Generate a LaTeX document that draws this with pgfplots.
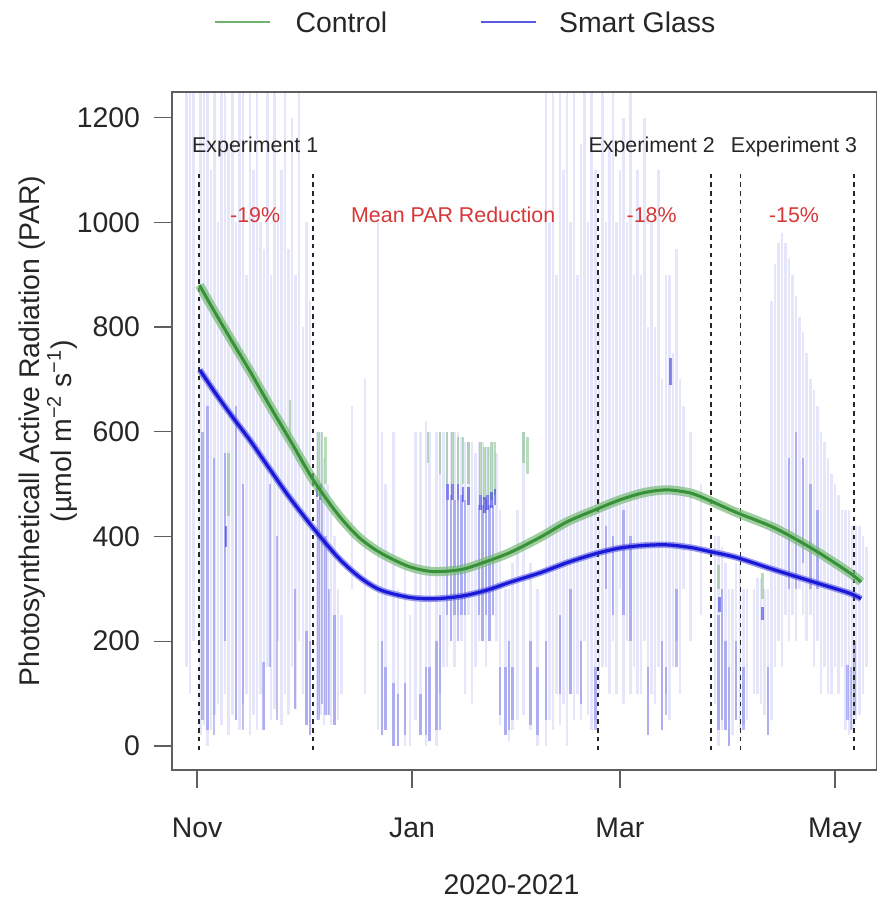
\documentclass[border=0pt]{standalone}
\usepackage{fontspec}
\setmainfont{Liberation Sans}
\usepackage{pgfplots}
\pgfplotsset{compat=1.18}
\definecolor{ctrl}{RGB}{55,145,55}
\definecolor{ctrlband}{RGB}{120,185,120}
\definecolor{sg}{RGB}{25,25,215}
\definecolor{sgband}{RGB}{90,90,225}
\definecolor{redtxt}{RGB}{215,55,55}
\definecolor{frame}{RGB}{95,95,95}
\begin{document}
\begin{tikzpicture}
\begin{axis}[
  scale only axis, width=352.6pt, height=339pt,
  xmin=-7.1, xmax=193, ymin=-46, ymax=1249,
  unbounded coords=jump,
  axis line style={draw=frame, line width=0.9pt},
  tick align=outside, major tick length=9pt,
  tick style={draw=frame, line width=0.7pt},
  xtick pos=left, ytick pos=left,
  xtick={0,61,120,181}, xticklabels={Nov,Jan,Mar,May},
  ytick={0,200,400,600,800,1000,1200},
  /pgf/number format/set thousands separator={},
  /pgf/number format/assume math mode=true,
  ticklabel style={font=\fontsize{14.2}{16}\selectfont, text=black!85},
  xticklabel style={yshift=-11.5pt},
  yticklabel style={xshift=-3.5pt},
  xlabel={2020-2021},
  xlabel style={at={(axis description cs:0.4815,-0.1696)}, anchor=center, font=\fontsize{14.2}{16}\selectfont, text=black!85},
  ylabel={Photosyntheticall Active Radiation (PAR)\\[0pt](µmol m\textsuperscript{−2} s\textsuperscript{−1})},
  ylabel style={at={(axis description cs:-0.176,0.5)}, anchor=center, align=center, font=\fontsize{14.2}{16}\selectfont, text=black!85},
]
% faint scatter (smart glass)
\addplot[sg, opacity=0.11, line width=1.25pt] coordinates {
(-3,150) (-3,1249) (-3,nan) (-2,100) (-2,1249) (-2,nan) (-1,200) (-1,1249) (-1,nan)
(1,20) (1,1249) (1,nan) (2,40) (2,1249) (2,nan) (3,0) (3,1249) (3,nan) (4,30) (4,1100) (4,nan)
(5,60) (5,1249) (5,nan) (6,80) (6,1000) (6,nan) (7,40) (7,1249) (7,nan) (8,100) (8,1249) (8,nan)
(9,20) (9,1150) (9,nan) (10,60) (10,1249) (10,nan) (11,50) (11,1000) (11,nan) (12,30) (12,1249) (12,nan)
(13,80) (13,1249) (13,nan) (14,100) (14,900) (14,nan) (15,20) (15,1249) (15,nan) (16,60) (16,1100) (16,nan)
(17,30) (17,1249) (17,nan) (18,100) (18,1000) (18,nan) (19,30) (19,950) (19,nan) (20,150) (20,1249) (20,nan)
(21,50) (21,900) (21,nan) (22,70) (22,1249) (22,nan) (23,200) (23,1000) (23,nan) (24,40) (24,1100) (24,nan)
(25,100) (25,1249) (25,nan) (26,60) (26,950) (26,nan) (27,150) (27,1200) (27,nan) (28,70) (28,900) (28,nan)
(29,200) (29,1249) (29,nan) (30,100) (30,800) (30,nan) (31,40) (31,1000) (31,nan) (32,20) (32,850) (32,nan)
(34,50) (34,600) (34,nan) (35,60) (35,600) (35,nan) (36,40) (36,550) (36,nan) (37,60) (37,500) (37,nan)
(38,40) (38,450) (38,nan) (39,40) (39,400) (39,nan) (40,50) (40,300) (40,nan) (41,100) (41,250) (41,nan)
(44,300) (44,650) (44,nan) (47.7,100) (47.7,700) (47.7,nan) (51.4,30) (51.4,1000) (51.4,nan)
(52.5,20) (52.5,600) (52.5,nan) (53.5,30) (53.5,500) (53.5,nan) (55.7,0) (55.7,600) (55.7,nan)
(57,0) (57,300) (57,nan) (59,0) (59,350) (59,nan) (60.5,0) (60.5,250) (60.5,nan)
(62,50) (62,600) (62,nan) (63.4,20) (63.4,600) (63.4,nan) (65,0) (65,620) (65,nan) (66,10) (66,600) (66,nan)
(68,0) (68,600) (68,nan) (69,100) (69,600) (69,nan) (70,150) (70,600) (70,nan) (71,150) (71,600) (71,nan)
(72,200) (72,600) (72,nan) (73,150) (73,600) (73,nan) (74,250) (74,600) (74,nan) (75,200) (75,590) (75,nan)
(76,100) (76,580) (76,nan) (77,250) (77,580) (77,nan) (78,80) (78,580) (78,nan) (79,150) (79,560) (79,nan)
(80,200) (80,580) (80,nan) (81,200) (81,580) (81,nan) (82,150) (82,570) (82,nan) (83,200) (83,570) (83,nan)
(84,250) (84,580) (84,nan) (85,200) (85,560) (85,nan) (86,40) (86,450) (86,nan) (87.5,20) (87.5,300) (87.5,nan)
(88.5,10) (88.5,300) (88.5,nan) (89.5,30) (89.5,350) (89.5,nan) (91,50) (91,450) (91,nan)
(92.7,60) (92.7,600) (92.7,nan) (94.6,30) (94.6,350) (94.6,nan) (96.6,0) (96.6,300) (96.6,nan)
(99,0) (99,1249) (99,nan) (100,50) (100,1000) (100,nan) (101,30) (101,1249) (101,nan) (102,100) (102,900) (102,nan)
(103,40) (103,1249) (103,nan) (104,80) (104,1100) (104,nan) (105,0) (105,1249) (105,nan) (106,100) (106,1000) (106,nan)
(107,50) (107,1249) (107,nan) (108,100) (108,900) (108,nan) (109,50) (109,1150) (109,nan) (110,200) (110,1249) (110,nan)
(111,60) (111,1000) (111,nan) (112,30) (112,1249) (112,nan) (113,50) (113,1100) (113,nan) (114,100) (114,900) (114,nan)
(115,150) (115,1249) (115,nan) (116,150) (116,1000) (116,nan) (117,100) (117,1150) (117,nan) (118,200) (118,1249) (118,nan)
(119,100) (119,1000) (119,nan) (120,300) (120,1100) (120,nan) (121,80) (121,1200) (121,nan) (122,200) (122,1000) (122,nan)
(123,100) (123,1249) (123,nan) (124,150) (124,900) (124,nan) (125,100) (125,1100) (125,nan) (126,100) (126,900) (126,nan)
(127,200) (127,1200) (127,nan) (128,20) (128,800) (128,nan) (129,100) (129,1000) (129,nan) (130,80) (130,800) (130,nan)
(131,150) (131,1100) (131,nan) (132,30) (132,700) (132,nan) (133,100) (133,900) (133,nan) (134,50) (134,900) (134,nan)
(135,150) (135,750) (135,nan) (136,200) (136,950) (136,nan) (137,100) (137,700) (137,nan) (138,300) (138,650) (138,nan)
(140,200) (140,600) (140,nan) (143,250) (143,500) (143,nan)
(147,80) (147,400) (147,nan) (148,0) (148,400) (148,nan) (149,30) (149,380) (149,nan) (150,30) (150,350) (150,nan)
(151,0) (151,300) (151,nan) (152,20) (152,300) (152,nan) (153,50) (153,350) (153,nan) (154,30) (154,350) (154,nan)
(155,40) (155,300) (155,nan) (156,50) (156,300) (156,nan) (158,100) (158,300) (158,nan) (159,100) (159,320) (159,nan)
(160,80) (160,320) (160,nan) (161,60) (161,300) (161,nan) (162,20) (162,300) (162,nan) (163,50) (163,850) (163,nan)
(164,150) (164,920) (164,nan) (165,200) (165,960) (165,nan) (166,150) (166,980) (166,nan) (167,250) (167,960) (167,nan)
(168,200) (168,930) (168,nan) (169,250) (169,900) (169,nan) (170,200) (170,860) (170,nan) (171,300) (171,820) (171,nan)
(172,250) (172,790) (172,nan) (173,200) (173,750) (173,nan) (174,250) (174,700) (174,nan) (175,150) (175,680) (175,nan)
(176,200) (176,650) (176,nan) (177,100) (177,600) (177,nan) (178,150) (178,580) (178,nan) (179,100) (179,550) (179,nan)
(180,100) (180,520) (180,nan) (181,150) (181,500) (181,nan) (182,100) (182,480) (182,nan) (183,150) (183,450) (183,nan)
(184,30) (184,450) (184,nan) (185,20) (185,450) (185,nan) (186,30) (186,420) (186,nan) (187,50) (187,420) (187,nan)
(188,60) (188,420) (188,nan) (189,100) (189,400) (189,nan) (190,150) (190,380) (190,nan)
};
% control points visible above smart glass
\addplot[ctrlband, opacity=0.5, line width=1.25pt] coordinates {
(9,440) (9,560) (9,nan) (26.4,585) (26.4,660) (26.4,nan)
(34.5,500) (34.5,600) (34.5,nan) (35.5,490) (35.5,600) (35.5,nan) (36.4,500) (36.4,590) (36.4,nan)
(65.6,540) (65.6,600) (65.6,nan) (69,520) (69,600) (69,nan)
(71,500) (71,600) (71,nan) (72.5,500) (72.5,600) (72.5,nan) (74,500) (74,590) (74,nan)
(75.5,500) (75.5,590) (75.5,nan) (77,500) (77,580) (77,nan)
(80.5,480) (80.5,580) (80.5,nan) (81.5,470) (81.5,570) (81.5,nan) (82.5,480) (82.5,570) (82.5,nan)
(83.5,470) (83.5,580) (83.5,nan) (84.5,480) (84.5,580) (84.5,nan)
(92.7,540) (92.7,600) (92.7,nan) (93.8,520) (93.8,590) (93.8,nan)
(148,300) (148,345) (148,nan) (160.5,280) (160.5,330) (160.5,nan)
};
% denser smart glass points
\addplot[sg, opacity=0.28, line width=1.25pt] coordinates {
(1.5,50) (1.5,600) (1.5,nan) (3,30) (3,650) (3,nan) (4.8,20) (4.8,550) (4.8,nan) (8,200) (8,560) (8,nan)
(11,50) (11,650) (11,nan) (13,30) (13,500) (13,nan) (18.8,30) (18.8,160) (18.8,nan) (20.7,150) (20.7,500) (20.7,nan)
(22.7,50) (22.7,400) (22.7,nan) (27.8,70) (27.8,300) (27.8,nan) (31,40) (31,220) (31,nan) (32,20) (32,200) (32,nan)
(34.5,50) (34.5,470) (34.5,nan) (35.5,80) (35.5,470) (35.5,nan) (36.5,60) (36.5,400) (36.5,nan)
(37.5,60) (37.5,300) (37.5,nan) (39,40) (39,250) (39,nan)
(52.5,20) (52.5,200) (52.5,nan) (53.5,30) (53.5,150) (53.5,nan) (55.7,0) (55.7,120) (55.7,nan)
(57,0) (57,100) (57,nan) (59,20) (59,120) (59,nan)
(63.4,20) (63.4,100) (63.4,nan) (65,20) (65,150) (65,nan) (66,10) (66,150) (66,nan) (68,30) (68,200) (68,nan)
(69,30) (69,250) (69,nan) (71,250) (71,470) (71,nan) (72,200) (72,480) (72,nan) (73,250) (73,470) (73,nan)
(74,200) (74,470) (74,nan) (75,250) (75,480) (75,nan) (76,250) (76,470) (76,nan)
(80,250) (80,460) (80,nan) (81,200) (81,460) (81,nan) (82,250) (82,470) (82,nan) (83,200) (83,460) (83,nan)
(84,250) (84,460) (84,nan) (86,60) (86,150) (86,nan) (87.5,20) (87.5,150) (87.5,nan) (88.5,30) (88.5,200) (88.5,nan)
(89.5,50) (89.5,150) (89.5,nan)
(94.6,40) (94.6,200) (94.6,nan) (96.6,20) (96.6,150) (96.6,nan) (99,50) (99,200) (99,nan) (103,100) (103,250) (103,nan)
(106,100) (106,300) (106,nan) (109,80) (109,200) (109,nan) (113,30) (113,150) (113,nan) (116,300) (116,420) (116,nan)
(118,250) (118,400) (118,nan) (121,250) (121,450) (121,nan) (123,200) (123,400) (123,nan) (128,20) (128,150) (128,nan)
(132,30) (132,200) (132,nan) (133,60) (133,150) (133,nan) (136,150) (136,300) (136,nan)
(148,30) (148,250) (148,nan) (149,50) (149,300) (149,nan) (150,30) (150,200) (150,nan) (151,0) (151,150) (151,nan)
(153,50) (153,200) (153,nan) (155,30) (155,150) (155,nan) (162,20) (162,150) (162,nan)
(168,300) (168,550) (168,nan) (170,300) (170,600) (170,nan) (172,350) (172,550) (172,nan) (174,300) (174,500) (174,nan)
(176,300) (176,450) (176,nan) (184.5,50) (184.5,155) (184.5,nan) (185.5,30) (185.5,150) (185.5,nan) (186.5,60) (186.5,200) (186.5,nan)
};
% dark clusters
\addplot[sg, opacity=0.5, line width=1.3pt] coordinates {
(8.2,380) (8.2,420) (8.2,nan) (35,470) (35,500) (35,nan) (34,475) (34,495) (34,nan)
(71,470) (71,500) (71,nan) (72.5,470) (72.5,500) (72.5,nan) (74,470) (74,500) (74,nan)
(75.5,465) (75.5,495) (75.5,nan) (77,460) (77,495) (77,nan)
(80.5,450) (80.5,480) (80.5,nan) (81.5,445) (81.5,475) (81.5,nan) (82.5,450) (82.5,480) (82.5,nan)
(83.5,455) (83.5,485) (83.5,nan) (84.5,460) (84.5,490) (84.5,nan)
(134.4,690) (134.4,740) (134.4,nan)
(148.3,255) (148.3,285) (148.3,nan) (160.5,240) (160.5,265) (160.5,nan)
};
% experiment boundaries
\addplot[black!85, line width=0.9pt, dash pattern=on 2.2pt off 2.2pt] coordinates {
(0.66,-8) (0.66,1098) (0.66,nan) (33,-8) (33,1098) (33,nan)
(113.7,-8) (113.7,1098) (113.7,nan) (145.9,-8) (145.9,1098) (145.9,nan)
(154.2,-8) (154.2,1098) (154.2,nan) (186.4,-8) (186.4,1098) (186.4,nan)
};
% confidence bands
\addplot[smooth, ctrlband, opacity=0.7, line width=4.6pt] coordinates {
(0.7,880) (5,829) (10,772) (15,716) (20,657) (26.4,584) (33,508) (40,442) (46,398) (52,369) (60,343) (67,333)
(75,337) (82,352) (89,370) (97.5,399) (105,428) (113,451) (120,470) (127,484) (133.5,489) (140,483) (145,470)
(153,446) (164,416) (175,375) (185.3,330) (188.4,313)
};
\addplot[smooth, sgband, opacity=0.6, line width=3.2pt] coordinates {
(0.8,718) (5,676) (10,629) (15,584) (20,535) (26,477) (33,416) (40,360) (46,323) (52,298) (60,284) (67,281)
(75,286) (82,297) (89,313) (97.5,331) (105,350) (113,367) (120,378) (127,383) (133.5,384) (140,379) (145,372)
(153,360) (164,336) (175,313) (185,292) (188.4,281)
};
% fitted curves
\addplot[smooth, ctrl, line width=1.5pt] coordinates {
(0.7,880) (5,829) (10,772) (15,716) (20,657) (26.4,584) (33,508) (40,442) (46,398) (52,369) (60,343) (67,333)
(75,337) (82,352) (89,370) (97.5,399) (105,428) (113,451) (120,470) (127,484) (133.5,489) (140,483) (145,470)
(153,446) (164,416) (175,375) (185.3,330) (188.4,313)
};
\addplot[smooth, sg, line width=1.6pt] coordinates {
(0.8,718) (5,676) (10,629) (15,584) (20,535) (26,477) (33,416) (40,360) (46,323) (52,298) (60,284) (67,281)
(75,286) (82,297) (89,313) (97.5,331) (105,350) (113,367) (120,378) (127,383) (133.5,384) (140,379) (145,372)
(153,360) (164,336) (175,313) (185,292) (188.4,281)
};
% annotations
\begin{scope}[every node/.style={font=\fontsize{10.7}{12}\selectfont}]
\node[text=black!85] at (axis cs:16.5,1144) {Experiment 1};
\node[text=black!85] at (axis cs:129,1144) {Experiment 2};
\node[text=black!85] at (axis cs:169.4,1144) {Experiment 3};
\node[text=redtxt] at (axis cs:16.5,1014) {-19\%};
\node[text=redtxt] at (axis cs:72.7,1014) {Mean PAR Reduction};
\node[text=redtxt] at (axis cs:129,1014) {-18\%};
\node[text=redtxt] at (axis cs:169.4,1014) {-15\%};
\end{scope}
% legend anchor points
\coordinate (lgA1) at (axis description cs:0.0611,1.1032);
\coordinate (lgA2) at (axis description cs:0.1392,1.1032);
\coordinate (lgAt) at (axis description cs:0.1747,1.1032);
\coordinate (lgB1) at (axis description cs:0.4375,1.1032);
\coordinate (lgB2) at (axis description cs:0.5156,1.1032);
\coordinate (lgBt) at (axis description cs:0.5483,1.1032);
\coordinate (bl) at ([xshift=-86pt,yshift=-69pt]rel axis cs:0,0);
\coordinate (tr) at ([xshift=-0.6pt,yshift=46pt]rel axis cs:1,1);
\end{axis}
% legend
\draw[ctrlband!85!ctrl, line width=1pt] (lgA1) -- (lgA2);
\node[anchor=west, inner sep=0pt, font=\fontsize{14.2}{16}\selectfont, text=black!85] at (lgAt) {Control};
\draw[sgband, line width=1pt] (lgB1) -- (lgB2);
\node[anchor=west, inner sep=0pt, font=\fontsize{14.2}{16}\selectfont, text=black!85] at (lgBt) {Smart Glass};
\pgfresetboundingbox
\useasboundingbox (bl) rectangle (tr);
\end{tikzpicture}
\end{document}
